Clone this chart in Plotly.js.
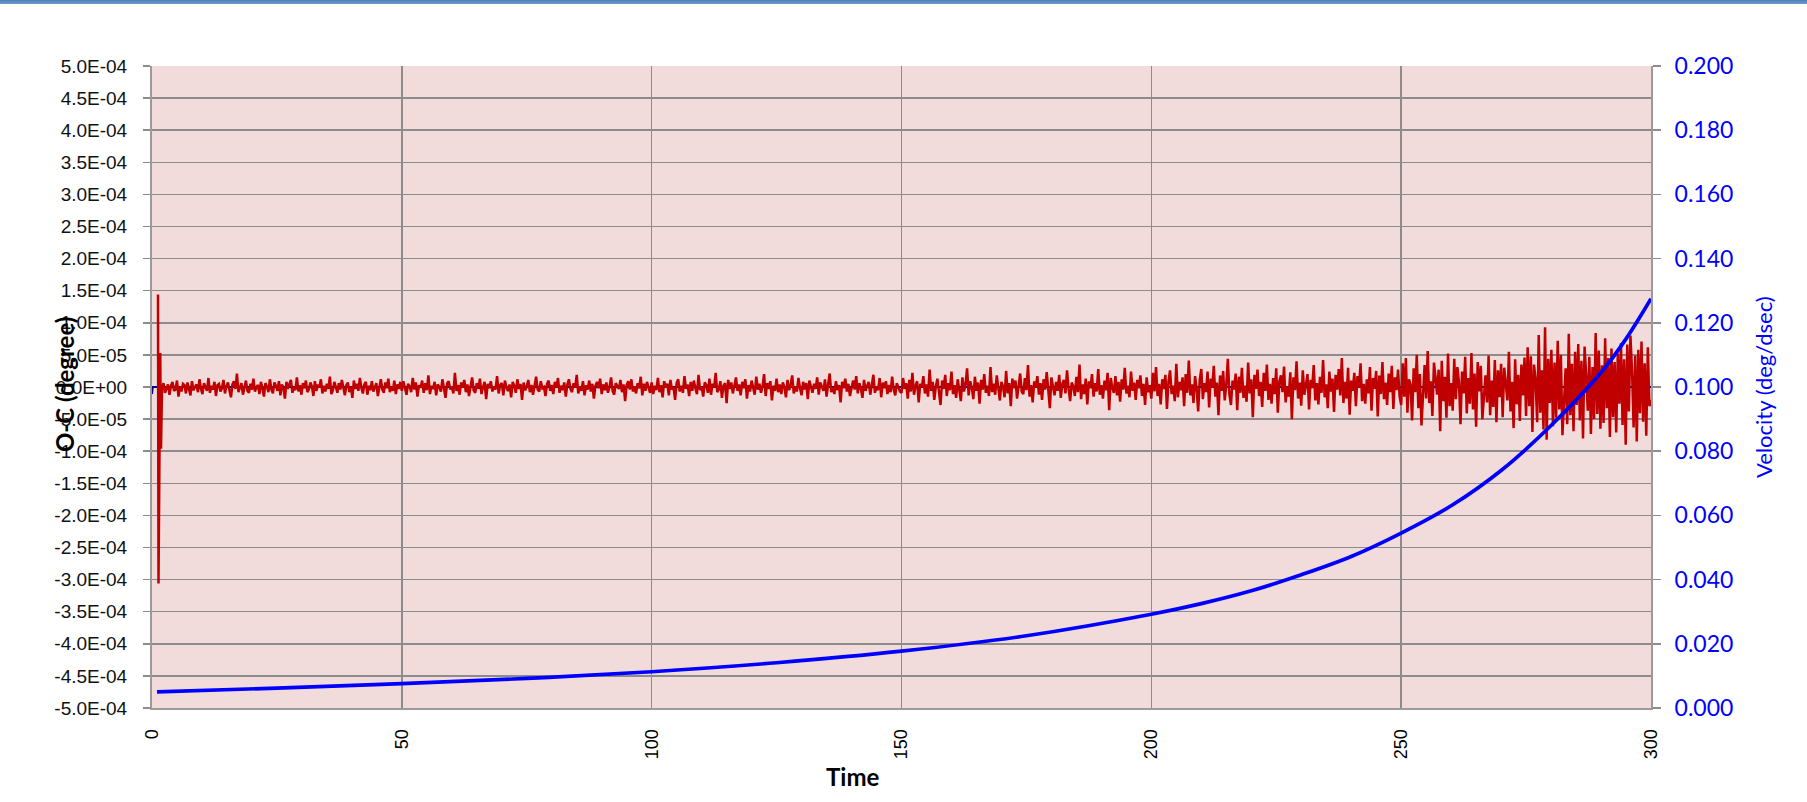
<!DOCTYPE html>
<html>
<head>
<meta charset="utf-8">
<script src="https://cdn.plot.ly/plotly-3.0.1.min.js"></script>
<style>
  html, body { margin: 0; padding: 0; background: #ffffff; }
  #wrap { position: relative; width: 1807px; height: 802px; }
  #topbar { position: absolute; left: 0; top: 0; width: 1807px; height: 4px;
            background: linear-gradient(#4A7EBB, #6F98CB); z-index: 10; }
  #chart { position: absolute; left: 0; top: 0; width: 1807px; height: 802px; }
</style>
</head>
<body>
<div id="wrap">
  <div id="chart"></div>
  <div id="topbar"></div>
</div>
<script>
// ---------------- DATA ----------------
// X axis (Time)
const xTickVals = [0, 50, 100, 150, 200, 250, 300];
const xTickText = ["0", "50", "100", "150", "200", "250", "300"];

// Left axis (O-C, degree)
const leftTickVals = [5.0e-4, 4.5e-4, 4.0e-4, 3.5e-4, 3.0e-4, 2.5e-4, 2.0e-4, 1.5e-4, 1.0e-4, 5.0e-5, 0,
                      -5.0e-5, -1.0e-4, -1.5e-4, -2.0e-4, -2.5e-4, -3.0e-4, -3.5e-4, -4.0e-4, -4.5e-4, -5.0e-4];
const leftTickText = ["5.0E-04", "4.5E-04", "4.0E-04", "3.5E-04", "3.0E-04", "2.5E-04", "2.0E-04", "1.5E-04", "1.0E-04", "5.0E-05", "0.0E+00",
                      "-5.0E-05", "-1.0E-04", "-1.5E-04", "-2.0E-04", "-2.5E-04", "-3.0E-04", "-3.5E-04", "-4.0E-04", "-4.5E-04", "-5.0E-04"];

// Right axis (Velocity, deg/dsec)
const rightTickVals = [0.000, 0.020, 0.040, 0.060, 0.080, 0.100, 0.120, 0.140, 0.160, 0.180, 0.200];

// O-C start-up transient (time in s, value in micro-degree)
const ocStartTime = [1.2, 1.3, 1.65, 1.8];
const ocStartMicro = [144, -306, 53, -96];

// O-C residuals after start-up, in micro-degree, one array per time span (evenly sampled inside each span)
const ocSegStart = [2, 50, 100, 150, 200, 250, 275];
const ocSegEnd   = [50, 100, 150, 200, 250, 275, 300];
const ocSeg1 = [ // 2 - 50 s
  -3, 6, -9, -1, 4, -12, 2, 8, -6, -4, 10, -15, 1, -7, 5, 3, -10, 7, -2, -13,
  9, -5, 0, 4, -8, 12, -3, -11, 6, -1, -6, 14, -9, 2, -4, 8, -14, 3, 5, -7,
  -2, 11, -10, 1, 7, -5, -16, 4, 9, -3, 21, -8, -1, 6, -12, 2, 10, -6, -9, 5,
  -4, 13, -7, 0, 3, -11, 8, -2, -15, 6, 1, -8, 12, -4, -10, 7, 2, -6, 9, -13,
  4, -1, -18, 8, -3, 5, 11, -9, 0, -5, 15, -7, 3, -12, 6, -2, 10, -8, -4, 7,
  1, -14, 9, -6, 4, -1, 12, -10, 2, -7, 5, -3, 16, -11, -5, 8, 0, -9, 6, -4,
  11, -2, -13, 3, 7, -8, 1, -17, 10, -3, 5, -6, 14, -1, -10, 4, 8, -12, 2, -5,
  9, -7, 0, 6, -14, 3, 12, -4, -9, 7, -2, 13, -8, 1, -6, 10, -11, 4, -3, 8
];
const ocSeg2 = [ // 50 - 100 s
  -6, 9, -2, -12, 5, 1, -8, 14, -4, 7, -15, 3, -1, 10, -9, 6, -5, 18, -11, 2,
  -3, 8, -13, 4, 0, -7, 12, -2, -17, 6, 9, -4, 1, -10, 22, -6, 3, -12, 7, -1,
  11, -8, 4, -14, 2, 15, -5, -9, 6, -3, 13, -11, 0, 8, -19, 5, -2, 9, -7, 1,
  -4, 17, -10, 3, 6, -13, 10, -1, -6, 4, -16, 8, 2, -9, 12, -3, 5, -20, 7, -5,
  1, 11, -8, 3, -12, 6, 16, -4, -7, 9, -2, 0, -14, 5, 10, -6, 3, -11, 8, -1,
  14, -9, 2, -5, 7, -15, 4, 12, -3, -8, 6, -1, 19, -10, 1, -6, 9, -13, 3, -4,
  10, -7, 5, -18, 2, 8, -2, 13, -11, 4, -5, 7, -9, 0, 15, -6, -12, 6, 1, -3,
  11, -8, 4, -22, 3, 9, -4, 12, -7, 1, -10, 6, -2, 16, -13, 5, -6, 8, -1, -9
];
const ocSeg3 = [ // 100 - 150 s
  7, -11, 2, -5, 14, -8, 3, -16, 9, -1, 5, -13, 11, -4, 0, -20, 6, 12, -7, 2,
  -9, 17, -3, 4, -14, 8, -6, 10, -2, -11, 19, -5, 1, -15, 7, 3, -9, 13, -12, 5,
  -1, 22, -8, -4, 9, -17, 2, 6, -25, 11, -3, 7, -10, 0, 15, -6, 4, -13, 8, -2,
  12, -18, 3, -7, 10, -1, -12, 16, -4, 5, -9, 1, 20, -14, 6, -3, 9, -21, 2, -6,
  13, -8, 4, -11, 7, 0, -16, 11, -5, 3, 18, -10, 1, -7, 14, -2, -13, 8, -4, 6,
  -19, 10, 2, -9, 5, -3, 15, -12, 7, -1, -6, 12, -15, 4, 21, -8, 0, -11, 9, -5,
  3, -24, 8, -2, 13, -7, 5, -14, 1, 10, -4, 17, -10, 6, -3, -17, 11, -6, 2, 8,
  -12, 4, 19, -9, 1, -5, 14, -16, 7, -2, 9, -11, 3, -8, 16, -4, -13, 6, 0, -7
];
const ocSeg4 = [ // 150 - 200 s
  -9, 14, -3, 6, -18, 11, -7, 22, -12, 2, 9, -24, 5, -1, 17, -10, 4, -15, 27, -6,
  8, -20, 1, 13, -8, -28, 10, -3, 19, -14, 6, -5, 24, -11, 3, -17, 12, -2, -22, 15,
  -7, 4, 29, -13, 9, -1, -19, 16, -6, 7, -26, 11, -4, 20, -9, 2, -14, 31, -8, 5,
  -12, 18, -3, -21, 8, 1, -16, 25, -10, 6, -30, 13, -2, 10, -18, 4, 21, -7, -11, 14,
  -5, 34, -15, 3, -24, 9, -1, 17, -12, 6, -20, 12, -4, 23, -9, -33, 15, 2, -13, 8,
  -6, 19, -17, 5, 11, -10, 26, -3, -22, 7, 1, -14, 16, -8, 35, -19, 4, -11, 13, -27,
  9, -2, 20, -15, 6, -7, 28, -12, 3, -18, 10, -5, 22, -36, 14, -1, -9, 17, -13, 8,
  -23, 12, -4, 30, -10, 2, -16, 24, -6, 7, -20, 11, -2, 18, -14, 5, -28, 15, -8, 3
];
const ocSeg5 = [ // 200 - 250 s
  -18, 22, -7, 31, -14, 5, -27, 12, -3, 19, -34, 9, 26, -11, 2, -22, 36, -16, 8, -5,
  15, -30, 20, -9, 41, -13, 4, -25, 17, -2, -38, 11, 28, -19, 6, -8, 24, -32, 13, -1,
  33, -15, 7, -44, 18, -6, 25, -21, 3, 44, -12, -28, 10, -4, 21, -36, 16, -9, 30, -17,
  2, -23, 38, -10, 12, -47, 19, -3, 27, -14, 8, -31, 22, -6, 35, -20, 5, -26, 14, -11,
  29, -40, 9, 18, -8, 32, -24, 1, -15, 23, -50, 15, -5, 40, -18, 7, -29, 26, -12, 3,
  20, -35, 11, -2, 34, -21, 6, -27, 16, -9, 42, -16, 4, -33, 24, -7, 13, -39, 19, -4,
  28, -13, 45, -25, 8, -18, 30, -43, 10, -6, 22, -30, 17, -1, 37, -22, 5, -26, 12, -10,
  31, -37, 14, -3, 25, -46, 18, -11, 39, -19, 7, -28, 21, -8, 33, -34, 15, -5, 27, -15
];
const ocSeg6 = [ // 250 - 275 s
  -28, 37, -15, 45, -40, 12, 4, -52, 29, -8, 50, -33, 20, -60, -21, 34, -18, 56, -25, 9,
  -45, 38, 15, -12, 27, -69, 41, -22, 16, -48, 52, -30, 6, -37, 44, -19, 31, 8, -58, 24,
  -10, 47, -41, 14, -26, 53, -35, 21, -62, 39, -7, 33, -50, -14, 18, -24, 49, -44, 10, -31,
  42, -55, 26, -16, 36, -47, 30, 5, -21, 55, -38, 8, -64, 43, -27, 19, -53, 35, -13, 46
];
const ocSeg7 = [ // 275 - 300 s
  -45, 62, -30, 48, -70, 35, 12, -55, 81, -40, 26, -66, 93, -82, 44, -25, 58, -61, 38, -48,
  72, -35, 50, -75, -20, 29, -58, 83, -44, 36, -69, 55, -28, 67, -52, 41, -80, 63, 18, -37,
  47, -73, 31, -50, 84, -42, 57, -65, 34, -56, 76, -33, 45, -78, 60, -47, 39, -71, 52, -26,
  68, -59, 43, -90, 66, -38, 80, 25, -63, 49, -85, 58, -41, 71, -54, 37, -76, 62, -30, -20
];

// Reference O-C line (degree)
const refTime = [0, 0.15, 300];
const refValue = [-1.1e-5, 0, 0];

// Velocity (deg/dsec)
const velTime = [1, 25, 50, 75, 100, 125, 150, 175, 200, 210, 220, 230, 240, 250, 260, 270, 280, 290, 295, 300];
const velValue = [0.0050, 0.0062, 0.0076, 0.0092, 0.0113, 0.0141, 0.0177, 0.0225, 0.0292, 0.0325,
                  0.0365, 0.0415, 0.0472, 0.0545, 0.0630, 0.0740, 0.0880, 0.1045, 0.1150, 0.1275];

// ---------------- BUILD ----------------
const MICRO = 1e-6;
const ocSegs = [ocSeg1, ocSeg2, ocSeg3, ocSeg4, ocSeg5, ocSeg6, ocSeg7];
let ocTime = ocStartTime.slice();
let ocMicro = ocStartMicro.slice();
ocSegs.forEach((seg, k) => {
  const last = (k === ocSegs.length - 1);
  const step = (ocSegEnd[k] - ocSegStart[k]) / (last ? seg.length - 1 : seg.length);
  seg.forEach((v, i) => { ocTime.push(ocSegStart[k] + i * step); ocMicro.push(v); });
});
const ocValue = ocMicro.map(v => v * MICRO);

const gridColor = '#8C8C8C';
const axisColor = '#9A9A9A';

const traces = [
  { x: refTime, y: refValue, type: 'scatter', mode: 'lines', name: 'ref',
    line: { color: '#00008B', width: 2 }, yaxis: 'y', hoverinfo: 'skip' },
  { x: ocTime, y: ocValue, type: 'scatter', mode: 'lines', name: 'O-C',
    line: { color: '#C00000', width: 2.5 }, yaxis: 'y' },
  { x: velTime, y: velValue, type: 'scatter', mode: 'lines', name: 'Velocity',
    line: { color: '#0000FF', width: 3.7, shape: 'spline', smoothing: 1 }, yaxis: 'y2' }
];

const layout = {
  width: 1807, height: 802,
  margin: { l: 152, r: 156, t: 66, b: 94, pad: 0 },
  paper_bgcolor: '#FFFFFF',
  plot_bgcolor: '#F2DCDB',
  showlegend: false,
  xaxis: {
    range: [0, 300], tickmode: 'array', tickvals: xTickVals, ticktext: xTickText,
    tickangle: -90, ticks: '', ticklabelstandoff: 12,
    showgrid: true, gridcolor: gridColor, gridwidth: 1.5,
    showline: true, linecolor: axisColor, linewidth: 2, zeroline: false,
    tickfont: { family: 'Liberation Sans, Arial, sans-serif', size: 18, color: '#000000' }
  },
  yaxis: {
    range: [-5e-4, 5e-4], tickmode: 'array', tickvals: leftTickVals, ticktext: leftTickText,
    ticks: 'outside', ticklen: 7, tickwidth: 1.5, tickcolor: gridColor, ticklabelstandoff: 12,
    showgrid: true, gridcolor: gridColor, gridwidth: 1.5,
    showline: true, linecolor: axisColor, linewidth: 2, zeroline: false,
    tickfont: { family: 'Liberation Sans, Arial, sans-serif', size: 19, color: '#111111' }
  },
  yaxis2: {
    overlaying: 'y', side: 'right', range: [0, 0.2], tickmode: 'array', tickvals: rightTickVals,
    tickformat: '.3f', ticks: 'outside', ticklen: 8, tickwidth: 1.5, tickcolor: gridColor, ticklabelstandoff: 9,
    showgrid: false, zeroline: false, showline: true, linecolor: axisColor, linewidth: 2,
    tickfont: { family: 'Lato, sans-serif', size: 23, color: '#0000FF' }
  },
  annotations: [
    { text: 'O-C (degree)', xref: 'paper', yref: 'paper', x: -0.0587, y: 0.503,
      xanchor: 'center', yanchor: 'middle', textangle: -90, showarrow: false,
      font: { family: 'Lato, sans-serif', size: 24, weight: 700, color: '#000000' } },
    { text: 'Velocity (deg/dsec)', xref: 'paper', yref: 'paper', x: 1.0747, y: 0.5,
      xanchor: 'center', yanchor: 'middle', textangle: -90, showarrow: false,
      font: { family: 'Lato, sans-serif', size: 22, color: '#0000FF' } },
    { text: 'Time', xref: 'paper', yref: 'paper', x: 0.467, y: -0.106,
      xanchor: 'center', yanchor: 'middle', showarrow: false,
      font: { family: 'Lato, sans-serif', size: 24, weight: 700, color: '#000000' } }
  ]
};

Plotly.newPlot('chart', traces, layout, { displayModeBar: false, staticPlot: true });
</script>
</body>
</html>
